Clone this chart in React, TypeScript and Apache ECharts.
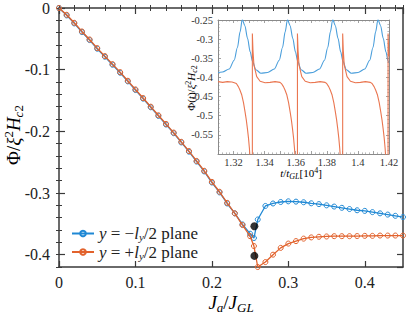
import React, { useEffect, useRef } from 'react';
import * as echarts from 'echarts';

// ---------- main panel data ----------
const jValues = [
  0, 0.01, 0.02, 0.03, 0.04, 0.05, 0.06, 0.07, 0.08, 0.09, 0.1, 0.11, 0.12, 0.13,
  0.14, 0.15, 0.16, 0.17, 0.18, 0.19, 0.2, 0.21, 0.22, 0.23, 0.24, 0.25, 0.255, 0.26,
  0.27, 0.28, 0.29, 0.3, 0.31, 0.32, 0.33, 0.34, 0.35, 0.36, 0.37, 0.38, 0.39, 0.4,
  0.41, 0.42, 0.43, 0.44, 0.45,
];
const phiLower = [
  0, -0.012, -0.025, -0.039, -0.052, -0.066, -0.079, -0.092, -0.105, -0.119, -0.133,
  -0.147, -0.161, -0.175, -0.189, -0.203, -0.218, -0.233, -0.249, -0.265, -0.283,
  -0.299, -0.317, -0.333, -0.351, -0.366, -0.373, -0.343, -0.321, -0.317, -0.3146,
  -0.3135, -0.314, -0.315, -0.3167, -0.318, -0.32, -0.322, -0.324, -0.326, -0.328,
  -0.329, -0.331, -0.333, -0.335, -0.337, -0.339,
];
const phiUpper = [
  0, -0.011, -0.024, -0.038, -0.051, -0.065, -0.078, -0.091, -0.104, -0.118, -0.132,
  -0.146, -0.16, -0.174, -0.188, -0.202, -0.217, -0.232, -0.248, -0.264, -0.282,
  -0.298, -0.316, -0.333, -0.352, -0.37, -0.386, -0.42, -0.412, -0.4, -0.389,
  -0.382, -0.378, -0.374, -0.372, -0.371, -0.3705, -0.37, -0.37, -0.37, -0.3698,
  -0.3695, -0.3695, -0.369, -0.369, -0.369, -0.369,
];
const transitionDots = [
  [0.2556, -0.354],
  [0.2556, -0.402],
];
const seriesNames = ['y = −l_y/2 plane', 'y = +l_y/2 plane'];

// ---------- inset data (t in 10^4 t_GL, Phi(t)/xi^2 H_c2) ----------
const insetLower = [
  [1.31, -0.387], [1.3129, -0.386], [1.3172, -0.378], [1.3204, -0.355], [1.3225, -0.322], [1.3242, -0.281], [1.3256, -0.249],
  [1.3273, -0.265], [1.329, -0.298], [1.3307, -0.333], [1.3322, -0.358], [1.3344, -0.38], [1.3376, -0.389], [1.3419, -0.387],
  [1.3462, -0.378], [1.3494, -0.355], [1.3515, -0.322], [1.3532, -0.281], [1.3547, -0.249],
  [1.3564, -0.265], [1.3581, -0.298], [1.3598, -0.333], [1.3613, -0.358], [1.3635, -0.38], [1.3667, -0.389], [1.371, -0.387],
  [1.3753, -0.378], [1.3785, -0.355], [1.3806, -0.322], [1.3823, -0.281], [1.3838, -0.249],
  [1.3855, -0.265], [1.3872, -0.298], [1.3889, -0.333], [1.3904, -0.358], [1.3926, -0.38], [1.3958, -0.389], [1.4001, -0.387],
  [1.4044, -0.378], [1.4076, -0.355], [1.4097, -0.322], [1.4114, -0.281], [1.4129, -0.249],
  [1.4146, -0.265], [1.4163, -0.298], [1.418, -0.333], [1.4195, -0.358], [1.42, -0.362],
];
const insetUpper = [
  [1.31, -0.411], [1.313, -0.413], [1.316, -0.411], [1.319, -0.412], [1.3205, -0.414], [1.3218, -0.416], [1.3231, -0.424],
  [1.3241, -0.433], [1.3253, -0.446], [1.3264, -0.466], [1.3274, -0.49], [1.3282, -0.511], [1.3289, -0.533], [1.3296, -0.558],
  [1.3302, -0.585], [1.3313, -0.65], [1.3321, -0.65], [1.3321, -0.285], [1.3325, -0.33], [1.3331, -0.367], [1.3349, -0.398],
  [1.3371, -0.41], [1.3403, -0.414], [1.3435, -0.413], [1.3467, -0.411], [1.3499, -0.413],
  [1.3508, -0.416], [1.3521, -0.424], [1.3531, -0.433], [1.3543, -0.446], [1.3554, -0.466], [1.3564, -0.49], [1.3572, -0.511],
  [1.3579, -0.533], [1.3586, -0.558], [1.3592, -0.585], [1.3603, -0.65], [1.3611, -0.65], [1.3611, -0.285], [1.3615, -0.33],
  [1.3621, -0.367], [1.3639, -0.398], [1.3661, -0.41], [1.3693, -0.414], [1.3725, -0.413], [1.3757, -0.411], [1.3789, -0.413],
  [1.3799, -0.416], [1.3812, -0.424], [1.3822, -0.433], [1.3834, -0.446], [1.3845, -0.466], [1.3855, -0.49], [1.3863, -0.511],
  [1.387, -0.533], [1.3877, -0.558], [1.3883, -0.585], [1.3894, -0.65], [1.3902, -0.65], [1.3902, -0.285], [1.3906, -0.33],
  [1.3912, -0.367], [1.393, -0.398], [1.3952, -0.41], [1.3984, -0.414], [1.4016, -0.413], [1.4048, -0.411], [1.408, -0.413],
  [1.4091, -0.416], [1.4104, -0.424], [1.4114, -0.433], [1.4126, -0.446], [1.4137, -0.466], [1.4147, -0.49], [1.4155, -0.511],
  [1.4162, -0.533], [1.4169, -0.558], [1.4175, -0.585], [1.4186, -0.65], [1.4194, -0.65], [1.4194, -0.285], [1.4198, -0.33],
  [1.42, -0.345],
];

const FONT = "'Liberation Serif', 'DejaVu Serif', serif";
const BLUE = '#1f88d4';
const ORANGE = '#e2622c';
const BLUE_IN = '#4a9edb';
const ORANGE_IN = '#ea7650';
const FRAME = '#3a3a3a';
const FRAME_IN = '#8a8a8a';

const richBig = {
  n: { fontFamily: FONT, fontSize: 19, lineHeight: 23, color: '#222' },
  i: { fontFamily: FONT, fontSize: 19, lineHeight: 23, fontStyle: 'italic', color: '#222' },
  sub: { fontFamily: FONT, fontSize: 13, lineHeight: 12, fontStyle: 'italic', verticalAlign: 'bottom', color: '#222' },
  subn: { fontFamily: FONT, fontSize: 13, lineHeight: 12, verticalAlign: 'bottom', color: '#222' },
  sup: { fontFamily: FONT, fontSize: 13, lineHeight: 12, verticalAlign: 'top', color: '#222' },
};
const richSmall = {
  n: { fontFamily: FONT, fontSize: 11, lineHeight: 14, color: '#333' },
  i: { fontFamily: FONT, fontSize: 11, lineHeight: 14, fontStyle: 'italic', color: '#333' },
  sub: { fontFamily: FONT, fontSize: 8, lineHeight: 8, fontStyle: 'italic', verticalAlign: 'bottom', color: '#333' },
  subn: { fontFamily: FONT, fontSize: 8, lineHeight: 8, verticalAlign: 'bottom', color: '#333' },
  sup: { fontFamily: FONT, fontSize: 8, lineHeight: 8, verticalAlign: 'top', color: '#333' },
};
const richLegend = {
  n: { fontFamily: FONT, fontSize: 17, lineHeight: 18, color: '#222' },
  i: { fontFamily: FONT, fontSize: 17, lineHeight: 18, fontStyle: 'italic', color: '#222' },
  sub: { fontFamily: FONT, fontSize: 11, lineHeight: 10, fontStyle: 'italic', verticalAlign: 'bottom', color: '#222' },
};

export default function App() {
  const ref = useRef<HTMLDivElement>(null);
  useEffect(() => {
    if (!ref.current) return;
    const chart = echarts.init(ref.current, undefined, { renderer: 'svg' });

    const tickMajor = { show: true, inside: true, length: 6, lineStyle: { color: FRAME, width: 1.2 } };
    const tickMinor = { show: true, inside: true, length: 3, lineStyle: { color: FRAME, width: 1 } };
    const mainLine = { show: true, onZero: false, lineStyle: { color: FRAME, width: 1.5 } };
    const noLine = { show: false };
    const noLabel = { show: false };
    const noSplit = { show: false };

    const mainX = (pos: string, interval: number, major: boolean, labels: boolean) => ({
      type: 'value', gridIndex: 0, position: pos, min: 0, max: 0.45, interval,
      axisLine: major ? mainLine : noLine,
      axisTick: major ? tickMajor : tickMinor,
      axisLabel: labels
        ? { show: true, showMaxLabel: false, fontFamily: FONT, fontSize: 16, color: '#222', margin: 7,
            formatter: (v: number) => String(Math.round(v * 100) / 100) }
        : noLabel,
      splitLine: noSplit,
    });
    const mainY = (pos: string, interval: number, major: boolean, labels: boolean) => ({
      type: 'value', gridIndex: 0, position: pos, inverse: true, min: 0, max: 0.42, interval,
      axisLine: major ? mainLine : noLine,
      axisTick: major ? tickMajor : tickMinor,
      axisLabel: labels
        ? { show: true, showMaxLabel: false, fontFamily: FONT, fontSize: 16, color: '#222', margin: 9,
            formatter: (v: number) => (Math.abs(v) < 1e-9 ? '0' : '-' + String(Math.round(v * 100) / 100)) }
        : noLabel,
      splitLine: noSplit,
    });

    const inTick = { show: true, inside: true, length: 3, lineStyle: { color: FRAME_IN, width: 0.8 } };
    const inMinor = { show: true, length: 1.6, lineStyle: { color: FRAME_IN, width: 0.6 } };
    const inLine = { show: true, onZero: false, lineStyle: { color: FRAME_IN, width: 1 } };

    const option: any = {
      animation: false,
      backgroundColor: '#fff',
      grid: [
        { left: 59, top: 8, width: 344, height: 259, containLabel: false, outerBoundsMode: 'none' },
        { left: 218, top: 20, width: 171, height: 134, containLabel: false, outerBoundsMode: 'none', show: true, backgroundColor: '#fff', borderWidth: 0 },
      ],
      legend: {
        left: 66, top: 220, orient: 'vertical', itemGap: 1, itemWidth: 22, itemHeight: 7,
        data: seriesNames,
        formatter: (name: string) =>
          name === seriesNames[0]
            ? '{i|y}{n| = −}{i|l}{sub|y}{n|/2 plane}'
            : '{i|y}{n| = +}{i|l}{sub|y}{n|/2 plane}',
        textStyle: { fontFamily: FONT, fontSize: 17, color: '#222', rich: richLegend },
      },
      graphic: [
        {
          type: 'text', x: 231, y: 302, silent: true,
          style: { text: '{i|J}{sub|a}{n|/}{i|J}{sub|GL}', rich: richBig, align: 'center', verticalAlign: 'middle' },
        },
        {
          type: 'text', x: 13, y: 135, rotation: Math.PI / 2, silent: true,
          style: { text: '{n|Φ/}{i|ξ}{sup|2}{i|H}{sub|c}{subn|2}', rich: richBig, align: 'center', verticalAlign: 'middle' },
        },
        {
          type: 'text', x: 301, y: 173, silent: true,
          style: { text: '{i|t}{n|/}{i|t}{sub|GL}{n|[10}{sup|4}{n|]}', rich: richSmall, align: 'center', verticalAlign: 'middle' },
        },
        {
          type: 'text', x: 191, y: 88, rotation: Math.PI / 2, silent: true,
          style: { text: '{n|Φ(}{i|t}{n|)/}{i|ξ}{sup|2}{i|H}{sub|c}{subn|2}', rich: richSmall, align: 'center', verticalAlign: 'middle' },
        },
      ],
      xAxis: [
        mainX('bottom', 0.1, true, true),
        mainX('bottom', 0.02, false, false),
        mainX('top', 0.1, true, false),
        mainX('top', 0.02, false, false),
        {
          type: 'value', gridIndex: 1, position: 'bottom', min: 1.31, max: 1.42, interval: 0.01,
          axisLine: inLine, axisTick: inTick, minorTick: { ...inMinor, splitNumber: 4 },
          axisLabel: {
            show: true, fontFamily: FONT, fontSize: 10.5, color: '#333', margin: 3,
            formatter: (v: number) => {
              const k = Math.round(v * 100);
              return k % 2 === 0 ? String(k / 100) : '';
            },
          },
          splitLine: noSplit,
        },
        {
          type: 'value', gridIndex: 1, position: 'top', min: 1.31, max: 1.42, interval: 0.01,
          axisLine: inLine, axisTick: inTick, minorTick: { ...inMinor, splitNumber: 4 },
          axisLabel: noLabel, splitLine: noSplit,
        },
      ],
      yAxis: [
        mainY('left', 0.1, true, true),
        mainY('left', 0.02, false, false),
        mainY('right', 0.1, true, false),
        mainY('right', 0.02, false, false),
        {
          type: 'value', gridIndex: 1, position: 'left', min: -0.6, max: -0.25, interval: 0.05,
          axisLine: inLine, axisTick: inTick, minorTick: { ...inMinor, splitNumber: 5 },
          axisLabel: {
            show: true, showMinLabel: false, fontFamily: FONT, fontSize: 10.5, color: '#333', margin: 5,
            formatter: (v: number) => String(Math.round(v * 100) / 100),
          },
          splitLine: noSplit,
        },
        {
          type: 'value', gridIndex: 1, position: 'right', min: -0.6, max: -0.25, interval: 0.05,
          axisLine: inLine, axisTick: inTick, minorTick: { ...inMinor, splitNumber: 5 },
          axisLabel: noLabel, splitLine: noSplit,
        },
      ],
      series: [
        {
          name: seriesNames[0], type: 'line', xAxisIndex: 0, yAxisIndex: 0,
          data: jValues.map((j, i) => [j, -phiLower[i]]),
          color: BLUE, symbol: 'circle', symbolSize: 5, showSymbol: true,
          itemStyle: { color: 'rgba(255,255,255,0)', borderColor: BLUE, borderWidth: 1 },
          lineStyle: { color: BLUE, width: 1.3 }, z: 3,
        },
        {
          name: seriesNames[1], type: 'line', xAxisIndex: 0, yAxisIndex: 0,
          data: jValues.map((j, i) => [j, -phiUpper[i]]),
          color: ORANGE, symbol: 'circle', symbolSize: 5, showSymbol: true,
          itemStyle: { color: 'rgba(255,255,255,0)', borderColor: ORANGE, borderWidth: 1 },
          lineStyle: { color: ORANGE, width: 1.3 }, z: 4,
        },
        {
          name: 'transition', type: 'scatter', xAxisIndex: 0, yAxisIndex: 0,
          data: transitionDots.map((d) => [d[0], -d[1]]),
          symbol: 'circle', symbolSize: 8, itemStyle: { color: '#000' }, z: 6,
        },
        {
          name: 'insetLower', type: 'line', xAxisIndex: 4, yAxisIndex: 4,
          data: insetLower, showSymbol: false, symbol: 'none', clip: true,
          smooth: 0.3, smoothMonotone: 'x',
          lineStyle: { color: BLUE_IN, width: 1.1 }, z: 5,
        },
        {
          name: 'insetUpper', type: 'line', xAxisIndex: 4, yAxisIndex: 4,
          data: insetUpper, showSymbol: false, symbol: 'none', clip: true,
          lineStyle: { color: ORANGE_IN, width: 1.1 }, z: 5,
        },
      ],
    };
    chart.setOption(option);
    return () => chart.dispose();
  }, []);
  return (
    <div
      ref={ref}
      style={{ position: 'absolute', left: 0, top: 0, width: 407, height: 315 }}
    />
  );
}
